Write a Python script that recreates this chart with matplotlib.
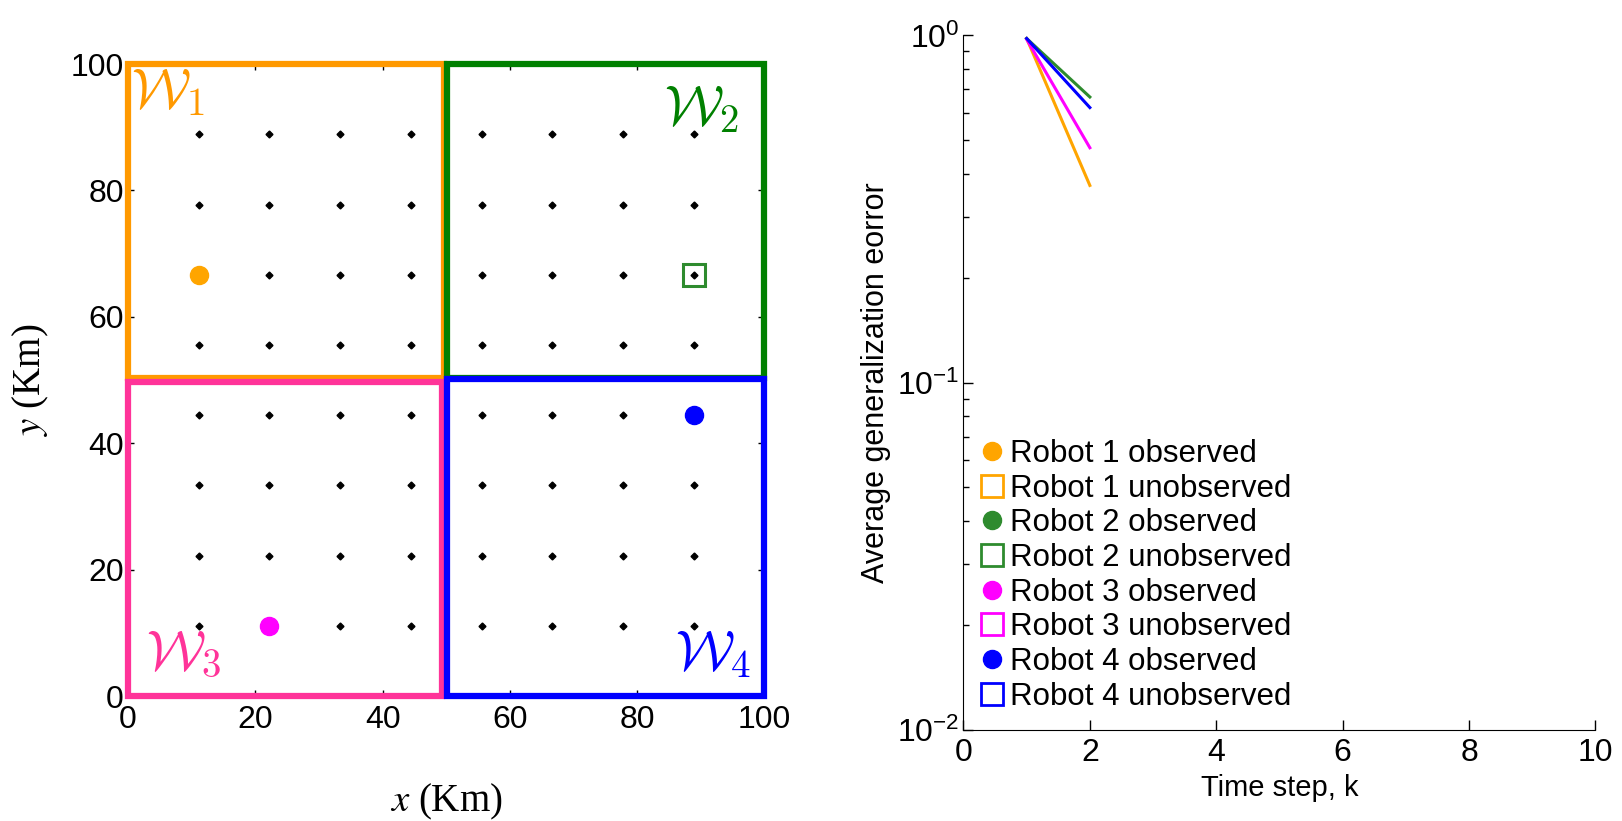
import numpy as np
import matplotlib
matplotlib.use("Agg")
import matplotlib.pyplot as plt
from matplotlib.patches import Rectangle
from matplotlib.lines import Line2D

plt.rcParams['font.family'] = ['Liberation Sans', 'DejaVu Sans']
plt.rcParams['mathtext.fontset'] = 'custom'
plt.rcParams['mathtext.rm'] = 'Liberation Sans'
plt.rcParams['mathtext.it'] = 'Liberation Sans:italic'
plt.rcParams['mathtext.default'] = 'regular'
plt.rcParams['axes.unicode_minus'] = False

# sensor grid: 8 x 8 points spaced 100/9 km apart
grid = np.arange(1, 9) * 100 / 9

# robot positions (km)
robot_names = ['Robot 1', 'Robot 2', 'Robot 3', 'Robot 4']
robot_x = [100 / 9, 800 / 9, 200 / 9, 800 / 9]
robot_y = [600 / 9, 600 / 9, 100 / 9, 400 / 9]
robot_obs = [True, False, True, True]
robot_colors = ['#FFA500', '#2E8B2E', '#FF00FF', '#0000FF']

# sub-region boxes and their colours
region_labels = [r'$\mathcal{W}_{\mathrm{1}}$', r'$\mathcal{W}_{\mathrm{2}}$',
                 r'$\mathcal{W}_{\mathrm{3}}$', r'$\mathcal{W}_{\mathrm{4}}$']
region_colors = ['#FF9900', '#008000', '#FF3399', '#0000FF']

# average generalization error per time step
steps = [1, 2]
err_r1 = [0.98, 0.37]
err_r2 = [0.98, 0.665]
err_r3 = [0.975, 0.475]
err_r4 = [0.98, 0.62]
errors = [err_r1, err_r2, err_r3, err_r4]

fig = plt.figure(figsize=(16.22, 8.21), dpi=100)

# ---- left: workspace map ----
ax = fig.add_axes([0.0789, 0.152, 0.3924, 0.770])
ax.set_xlim(0, 100)
ax.set_ylim(0, 100)
for s in ax.spines.values():
    s.set_visible(False)
ax.tick_params(direction='in', top=True, right=True, length=4, width=1, labelsize=23, pad=3)
ax.tick_params(axis='x', pad=6)
ax.set_xticks(range(0, 101, 20))
ax.set_yticks(range(0, 101, 20))

gx, gy = np.meshgrid(grid, grid)
ax.plot(gx.ravel(), gy.ravel(), 'D', color='black', markersize=3.5, zorder=2)

boxes = [(0, 50.4, 49.6, 49.6), (50.2, 50.3, 49.8, 49.7), (0, 0, 49.3, 49.7), (50.1, 0, 49.9, 50.1)]
for (bx, by, bw, bh), c in zip(boxes, region_colors):
    ax.add_patch(Rectangle((bx, by), bw, bh, fill=False, edgecolor=c, lw=4.5, zorder=4, clip_on=False))

for x, y, obs, c in zip(robot_x, robot_y, robot_obs, robot_colors):
    if obs:
        ax.plot(x, y, 'o', color=c, markersize=13, zorder=3)
    else:
        ax.plot(x, y, 's', mfc='none', mec=c, mew=2.2, markersize=16, zorder=3)

label_pos = [(0.4, 99.5, 'left', 'top'), (96, 96.8, 'right', 'top'),
             (2.8, 2.3, 'left', 'bottom'), (97.8, 2.3, 'right', 'bottom')]
for lab, c, (tx, ty, ha, va) in zip(region_labels, region_colors, label_pos):
    ax.text(tx, ty, lab, color=c, fontsize=40, ha=ha, va=va, math_fontfamily='cm', zorder=5)

ax.set_xlabel(r'$\mathit{x}$ (Km)', fontsize=28, family='Liberation Serif', math_fontfamily='stix', labelpad=34)
ax.set_ylabel(r'$\mathit{y}$ (Km)', fontsize=28, family='Liberation Serif', math_fontfamily='stix', labelpad=14)

# ---- right: error vs time step ----
ax2 = fig.add_axes([0.594, 0.1108, 0.3896, 0.846])
for e, c in zip(errors, robot_colors):
    ax2.plot(steps, e, color=c, lw=2.2)
ax2.set_yscale('log')
ax2.set_xlim(0, 10)
ax2.set_ylim(1e-2, 1)
ax2.set_xticks(range(0, 11, 2))
ax2.spines['top'].set_visible(False)
ax2.spines['right'].set_visible(False)
ax2.tick_params(which='major', direction='in', length=7, width=1, labelsize=23, pad=3)
ax2.tick_params(axis='x', which='major', pad=6)
ax2.tick_params(which='minor', direction='in', length=4, width=1)
ax2.set_xlabel('Time step, k', fontsize=21, labelpad=4)
ax2.set_ylabel('Average generalization eorror', fontsize=22, labelpad=4)

handles = []
labels = []
for name, c in zip(robot_names, robot_colors):
    handles.append(Line2D([], [], ls='none', marker='o', color=c, markersize=13))
    labels.append(name + ' observed')
    handles.append(Line2D([], [], ls='none', marker='s', mfc='none', mec=c, mew=2, markersize=16))
    labels.append(name + ' unobserved')
ax2.legend(handles, labels, loc='lower left', bbox_to_anchor=(0.0, 0.006), frameon=False,
           fontsize=22.5, labelspacing=0.15, handlelength=0.9, handletextpad=0.15,
           borderaxespad=0.25, borderpad=0.2)

fig.savefig('out.png', dpi=100)
